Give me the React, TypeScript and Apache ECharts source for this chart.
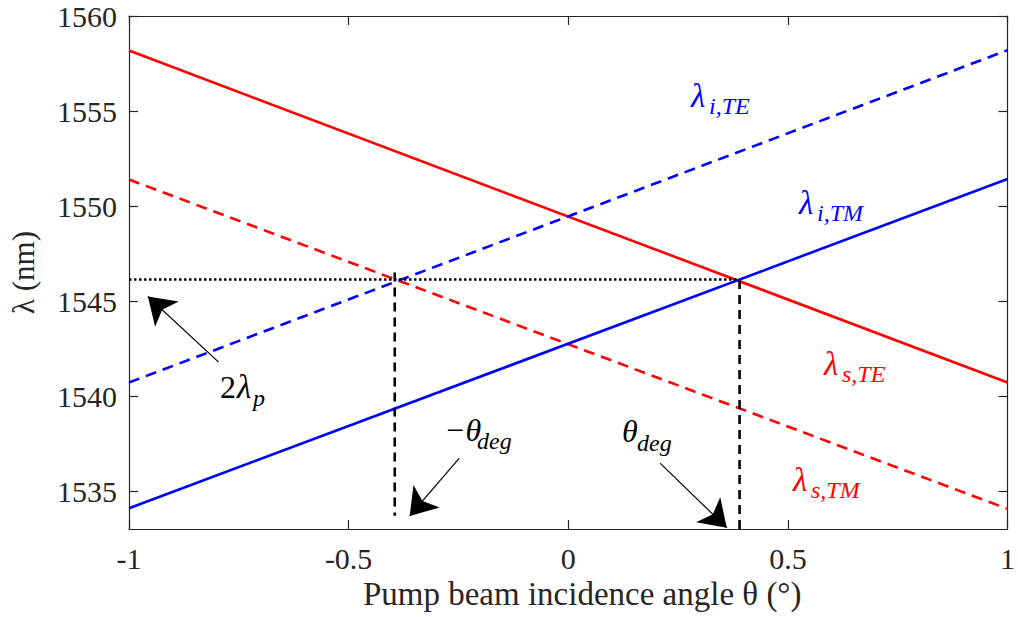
import React, { useEffect, useRef } from "react";
import * as echarts from "echarts";

// ---- data ----
const xEnds = [-1, 1];
const lambdaSTE = [1558.18, 1540.71];
const lambdaSTM = [1551.39, 1534.06];
const lambdaITM = [1534.09, 1551.42];
const lambdaITE = [1540.71, 1558.2];
const twoLambdaP = 1546.13;
const thetaDegX = [-0.395, 0.39];
const thetaDegTop = [1546.5, 1546.1];
const thetaDegBottom = [1533.7, 1533.0];
const yTicks = [1535, 1540, 1545, 1550, 1555, 1560];
const yMin = 1533;
const yMax = 1560;
const xMin = -1;
const xMax = 1;
const xStep = 0.5;
const arrowTails = [
  [-0.796, 1541.78],
  [-0.248, 1536.73],
  [0.209, 1536.47],
];
const arrowTips = [
  [-0.957, 1545.24],
  [-0.361, 1533.69],
  [0.361, 1533.06],
];

const FONT = "'Liberation Serif', 'Times New Roman', serif";
const AX = "#262626";
const RED = "#ff0000";
const BLUE = "#0000ff";

const zip = (ys: number[]) => xEnds.map((x, i) => [x, ys[i]]);

function txt(x: number, y: number, text: string, size: number, color: string, italic = true) {
  return {
    type: "text",
    x,
    y,
    style: {
      text,
      font: `${italic ? "italic " : ""}${size}px ${FONT}`,
      fill: color,
      verticalAlign: "middle",
      align: "left",
    },
  };
}

function lam(x: number, y: number, sub: string, color: string) {
  return [txt(x + 1, y, "λ", 33, color), txt(x + 19, y + 10, sub, 24, color)];
}

export default function App() {
  const ref = useRef<HTMLDivElement>(null);
  useEffect(() => {
    if (!ref.current) return;
    const chart = echarts.init(ref.current, undefined, { renderer: "svg" });
    const axisCommon = {
      axisLine: { show: true, onZero: false, lineStyle: { color: AX, width: 1.2 } },
      axisTick: { show: true, inside: true, length: 9, lineStyle: { color: AX, width: 1.2 } },
      splitLine: { show: false },
    };
    const graphics: any[] = [
      ...lam(690, 96, "i,TE", BLUE),
      ...lam(798, 203, "i,TM", BLUE),
      ...lam(823, 364, "s,TE", RED),
      ...lam(792, 480, "s,TM", RED),
      txt(220, 387, "2", 32, "#000", false),
      txt(237, 387, "λ", 33, "#000"),
      txt(253, 398, "p", 24, "#000"),
      txt(444, 430, "−θ", 32, "#000"),
      txt(477, 441, "deg", 24, "#000"),
      txt(622, 431, "θ", 32, "#000"),
      txt(637, 443, "deg", 24, "#000"),
    ];
    chart.setOption({
      animation: false,
      backgroundColor: "#ffffff",
      grid: { left: 127, top: 16, right: 8, bottom: 88, containLabel: false },
      xAxis: [
        {
          type: "value",
          min: xMin,
          max: xMax,
          interval: xStep,
          position: "bottom",
          name: "Pump beam incidence angle θ (°)",
          nameLocation: "middle",
          nameGap: 47,
          nameTextStyle: { fontFamily: FONT, fontSize: 33, color: AX, padding: [0, 0, 0, 28] },
          axisLabel: { fontFamily: FONT, fontSize: 30, color: AX, margin: 14 },
          ...axisCommon,
        },
        {
          type: "value",
          min: xMin,
          max: xMax,
          interval: xStep,
          position: "top",
          axisLabel: { show: false },
          ...axisCommon,
        },
      ],
      yAxis: [
        {
          type: "value",
          min: yMin,
          max: yMax,
          position: "left",
          name: "λ (nm)",
          nameLocation: "middle",
          nameGap: 90,
          nameRotate: 90,
          nameTextStyle: { fontFamily: FONT, fontSize: 31, color: AX },
          axisLabel: {
            fontFamily: FONT,
            fontSize: 30,
            color: AX,
            margin: 12,
            customValues: yTicks,
            formatter: (v: number) => String(v),
          },
          ...axisCommon,
          axisTick: { ...axisCommon.axisTick, customValues: yTicks },
        },
        {
          type: "value",
          min: yMin,
          max: yMax,
          position: "right",
          axisLabel: { show: false, customValues: yTicks },
          ...axisCommon,
          axisTick: { ...axisCommon.axisTick, customValues: yTicks },
        },
      ],
      series: [
        {
          type: "line",
          data: zip(lambdaSTE),
          symbol: "none",
          lineStyle: { color: RED, width: 2.6 },
          z: 3,
        },
        {
          type: "line",
          data: zip(lambdaSTM),
          symbol: "none",
          lineStyle: { color: RED, width: 2.6, type: [11, 7] },
          z: 3,
        },
        {
          type: "line",
          data: zip(lambdaITM),
          symbol: "none",
          lineStyle: { color: BLUE, width: 2.6 },
          z: 3,
        },
        {
          type: "line",
          data: zip(lambdaITE),
          symbol: "none",
          lineStyle: { color: BLUE, width: 2.6, type: [11, 7] },
          z: 3,
        },
        {
          type: "line",
          data: [
            [xMin, twoLambdaP],
            [thetaDegX[1], twoLambdaP],
          ],
          symbol: "none",
          lineStyle: { color: "#000", width: 2.5, type: [2.5, 2.5] },
          z: 4,
        },
        ...thetaDegX.map((x, i) => ({
          type: "line",
          data: [
            [x, thetaDegTop[i]],
            [x, thetaDegBottom[i]],
          ],
          symbol: "none",
          lineStyle: { color: "#000", width: 2.6, type: [9, 6] },
          z: 4,
        })),
        {
          type: "lines",
          coordinateSystem: "cartesian2d",
          symbol: ["none", "arrow"],
          symbolSize: [18, 26],
          lineStyle: { color: "#000", width: 1.2, opacity: 1, curveness: 0 },
          itemStyle: { color: "#000" },
          data: arrowTails.map((t, i) => ({ coords: [t, arrowTips[i]] })),
          z: 5,
        },
      ],
      graphic: graphics,
    });
    return () => chart.dispose();
  }, []);
  return (
    <div
      ref={ref}
      style={{ position: "fixed", left: 0, top: 0, width: 1018, height: 617, background: "#fff" }}
    />
  );
}
